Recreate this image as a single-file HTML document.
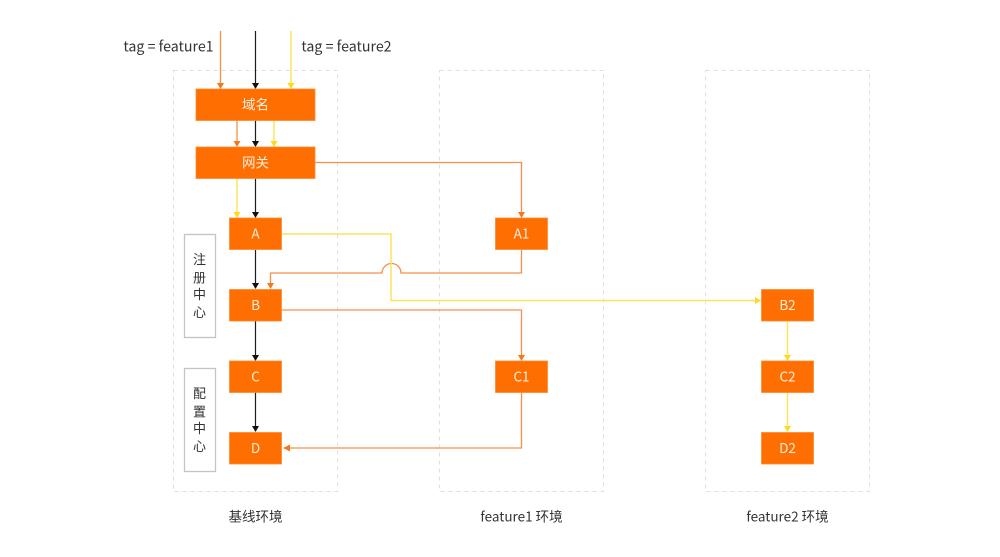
<!DOCTYPE html>
<html lang="zh">
<head>
<meta charset="utf-8">
<title>Diagram</title>
<style>
html,body{margin:0;padding:0;background:#fff;width:1000px;height:557px;overflow:hidden}
svg{display:block;filter:blur(.3px)}
text{font-family:"Noto Sans CJK SC","Liberation Sans",sans-serif;text-anchor:middle}
.b{fill:#ff6e00;stroke:#ff8a2c;stroke-width:.8}
.t{fill:#fff0e0;font-size:13.500px}
.l{fill:#333;font-size:13.500px}
.tag{font-size:14.200px}
.z{fill:none;stroke:#e0e0e0;stroke-width:1;stroke-dasharray:4 4}
.o,.y,.k{fill:none}
.o{stroke:#f2914a;stroke-width:1.300}
.y{stroke:#ffe25e;stroke-width:1.500}
.k{stroke:#1c1c1c;stroke-width:1.200}
.ao{fill:#f5771a}.ay{fill:#ffd91a}.ak{fill:#111}
.s{fill:#fff;stroke:#c4c4c4;stroke-width:1.300}
.v{fill:#333;font-size:13px}
</style>
</head>
<body>
<svg width="1000" height="557" viewBox="0 0 1000 557" xmlns="http://www.w3.org/2000/svg">
<rect x="173.500" y="70.500" width="164" height="421" class="z"/>
<rect x="439.500" y="70.500" width="164" height="421" class="z"/>
<rect x="705.500" y="70.500" width="164" height="421" class="z"/>

<rect x="184.500" y="234.500" width="31" height="103" class="s"/>
<rect x="184.500" y="368.500" width="31" height="103" class="s"/>
<text class="v" x="199.500" y="264">注</text>
<text class="v" x="199.500" y="282.500">册</text>
<text class="v" x="199.500" y="299">中</text>
<text class="v" x="199.500" y="317">心</text>
<text class="v" x="199.500" y="398">配</text>
<text class="v" x="199.500" y="416.500">置</text>
<text class="v" x="199.500" y="433">中</text>
<text class="v" x="199.500" y="451">心</text>

<path class="o" d="M220.500 31V83"/>
<path class="k" d="M255.500 31V83"/>
<path class="y" d="M291 31V83"/>
<path class="o" d="M237 120V141"/>
<path class="k" d="M255.500 120V141"/>
<path class="y" d="M274 120V141"/>
<path class="y" d="M237 178V212"/>
<path class="k" d="M255.500 178V212"/>
<path class="k" d="M255.500 250V283"/>
<path class="k" d="M255.500 321V355"/>
<path class="k" d="M255.500 392V426"/>
<path class="o" d="M315 162.500H521.500V212"/>
<path class="o" d="M521.500 250V273H401A9.500 9.500 0 0 0 382 273H270.500V283"/>
<path class="y" d="M282 234H391V300.500H755"/>
<path class="o" d="M282 310H521.500V355"/>
<path class="o" d="M521.500 392V448H290"/>
<path class="y" d="M787.500 321V355"/>
<path class="y" d="M787.500 392V426"/>

<path class="ao" d="M217 83H224L220.500 89Z"/>
<path class="ak" d="M252 83H259L255.500 89Z"/>
<path class="ay" d="M287.500 83H294.500L291 89Z"/>
<path class="ao" d="M233.500 141H240.500L237 147Z"/>
<path class="ak" d="M252 141H259L255.500 147Z"/>
<path class="ay" d="M270.500 141H277.500L274 147Z"/>
<path class="ay" d="M233.500 212H240.500L237 218Z"/>
<path class="ak" d="M252 212H259L255.500 218Z"/>
<path class="ak" d="M252 283H259L255.500 289Z"/>
<path class="ak" d="M252 355H259L255.500 361Z"/>
<path class="ak" d="M252 426H259L255.500 432Z"/>
<path class="ao" d="M518 212H525L521.500 218Z"/>
<path class="ao" d="M267 283H274L270.500 289Z"/>
<path class="ao" d="M518 355H525L521.500 361Z"/>
<path class="ao" d="M283 448L290 444.500V451.500Z"/>
<path class="ay" d="M755 297V304L761 300.500Z"/>
<path class="ay" d="M784 355H791L787.500 361Z"/>
<path class="ay" d="M784 426H791L787.500 432Z"/>

<rect class="b" x="196" y="89" width="119" height="31.500"/>
<rect class="b" x="196" y="147" width="119" height="31.500"/>
<rect class="b" x="229.500" y="218" width="52" height="31.500"/>
<rect class="b" x="229.500" y="289.500" width="52" height="31.500"/>
<rect class="b" x="229.500" y="361" width="52" height="31.500"/>
<rect class="b" x="229.500" y="432.500" width="52" height="31.500"/>
<rect class="b" x="495.500" y="218" width="52" height="31.500"/>
<rect class="b" x="495.500" y="361" width="52" height="31.500"/>
<rect class="b" x="761.500" y="289.500" width="52" height="31.500"/>
<rect class="b" x="761.500" y="361" width="52" height="31.500"/>
<rect class="b" x="761.500" y="432.500" width="52" height="31.500"/>

<text class="t" x="255.500" y="109.500">域名</text>
<text class="t" x="255.500" y="167.500">网关</text>
<text class="t" x="255.500" y="238.500">A</text>
<text class="t" x="255.500" y="310">B</text>
<text class="t" x="255.500" y="381.500">C</text>
<text class="t" x="255.500" y="453">D</text>
<text class="t" x="521.500" y="238.500">A1</text>
<text class="t" x="521.500" y="381.500">C1</text>
<text class="t" x="787.500" y="310">B2</text>
<text class="t" x="787.500" y="381.500">C2</text>
<text class="t" x="787.500" y="453">D2</text>

<text class="l tag" x="168.500" y="51.500">tag = feature1</text>
<text class="l tag" x="346.500" y="51.500">tag = feature2</text>
<text class="l" x="255.500" y="521.500">基线环境</text>
<text class="l" x="521.500" y="521.500">feature1 环境</text>
<text class="l" x="787.500" y="521.500">feature2 环境</text>
</svg>
</body>
</html>
